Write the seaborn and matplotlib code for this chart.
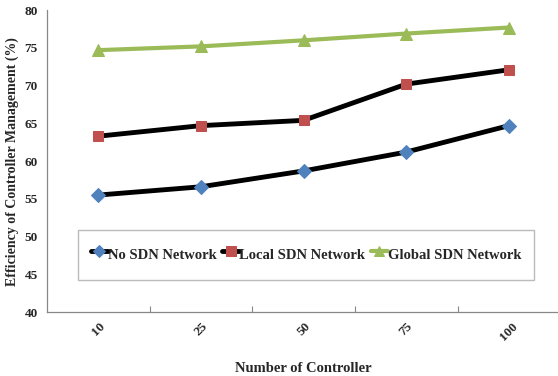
import matplotlib
matplotlib.use("Agg")
import matplotlib.pyplot as plt
import seaborn as sns
import pandas as pd
from matplotlib.ticker import FixedLocator

controllers = ["10", "25", "50", "75", "100"]
no_sdn = [55.5, 56.6, 58.7, 61.2, 64.7]
local_sdn = [63.3, 64.7, 65.4, 70.2, 72.1]
global_sdn = [74.7, 75.2, 76.0, 76.9, 77.7]
series_names = ["No SDN Network", "Local SDN Network", "Global SDN Network"]

sns.set_style("white")
plt.rcParams["font.family"] = ["Liberation Serif", "DejaVu Serif"]
plt.rcParams["font.weight"] = "bold"

df = pd.DataFrame({"Controller": controllers * 3,
                   "Efficiency": no_sdn + local_sdn + global_sdn,
                   "Network": [n for n in series_names for _ in controllers]})

fig = plt.figure(figsize=(5.58, 3.76), dpi=100)
ax = fig.add_axes([0.084, 0.170, 0.92, 0.803])

styles = {
    "No SDN Network": dict(color="black", marker="D", mfc="#4F81BD", mec="#4F81BD", ms=7, lw=3.5),
    "Local SDN Network": dict(color="black", marker="s", mfc="#C0504D", mec="#C0504D", ms=7.5, lw=3.5),
    "Global SDN Network": dict(color="#9BBB59", marker="^", mfc="#9BBB59", mec="#9BBB59", ms=8, lw=3),
}
for name in series_names:
    sub = df[df["Network"] == name]
    sns.lineplot(data=sub, x="Controller", y="Efficiency", ax=ax, label=name,
                 sort=False, **styles[name])

ax.set_xlim(-0.5, 4.5)
ax.set_ylim(40, 80)
ax.set_yticks(range(40, 81, 5))
ax.tick_params(axis="y", labelsize=9.5, length=3, direction="out", color="#888888", width=0.8)
ax.set_xticks(range(len(controllers)))
ax.set_xticklabels(controllers, rotation=45, fontsize=9.5)
ax.tick_params(axis="x", which="major", length=0, pad=6)
ax.xaxis.set_minor_locator(FixedLocator([0.5, 1.5, 2.5, 3.5]))
ax.tick_params(axis="x", which="minor", length=4, direction="in", color="#888888", width=0.8, bottom=True)
for lab in ax.get_yticklabels() + ax.get_xticklabels():
    lab.set_fontweight("bold")

for s in ["top", "right"]:
    ax.spines[s].set_visible(False)
for s in ["left", "bottom"]:
    ax.spines[s].set_color("#888888")
    ax.spines[s].set_linewidth(0.9)

ax.set_xlabel("Number of Controller", fontsize=10.5, fontweight="bold", labelpad=14)
ax.set_ylabel("Efficiency of Controller Management (%)", fontsize=10, fontweight="bold", labelpad=4)

leg = ax.legend(loc="center", bbox_to_anchor=(0.505, 0.19), ncol=3,
                fontsize=10.5, frameon=True, fancybox=False, handlelength=1.2, handletextpad=0.0,
                handleheight=2.3, columnspacing=0.35, borderpad=0.85, markerscale=0.9)
leg.get_frame().set_edgecolor("#aaaaaa")
leg.get_frame().set_linewidth(1.0)
for t in leg.get_texts():
    t.set_fontweight("bold")

fig.savefig("out.png", dpi=100)
